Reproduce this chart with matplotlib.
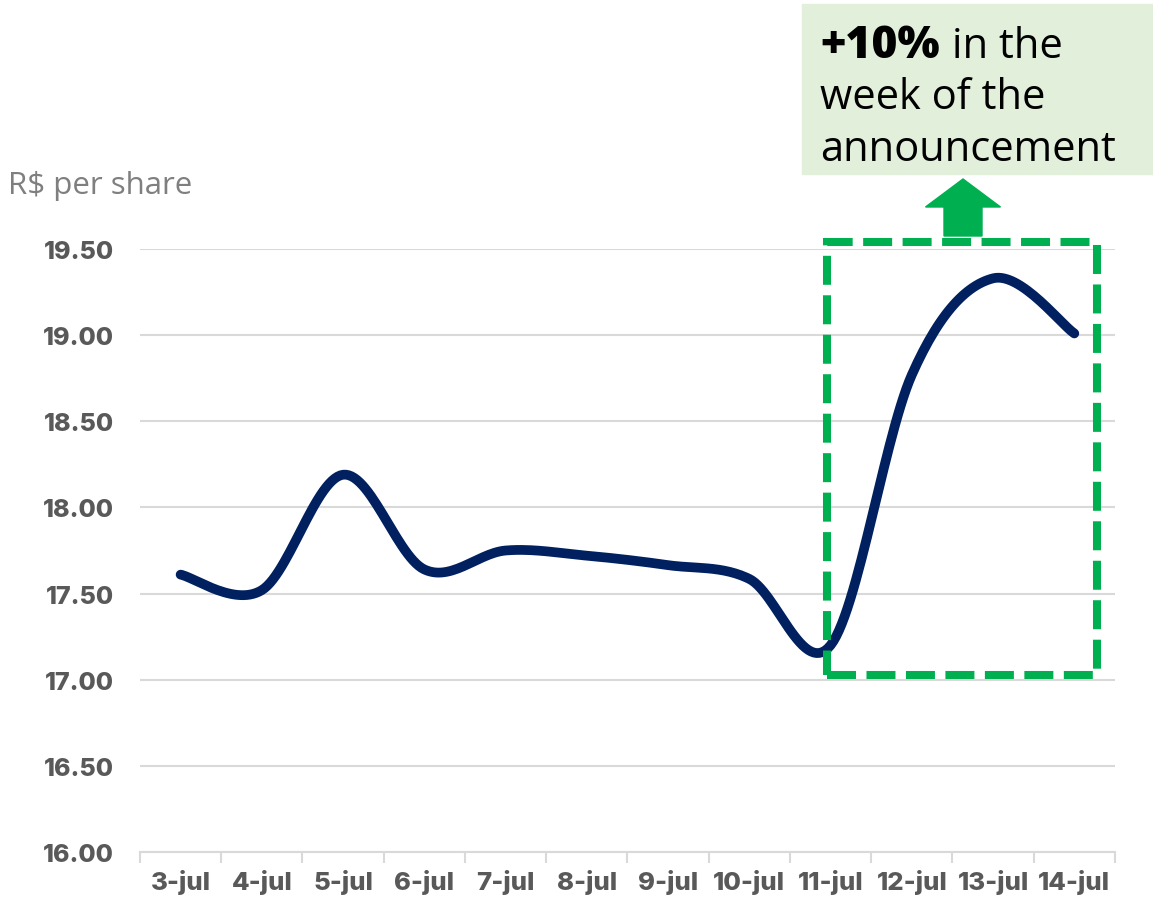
import numpy as np
import matplotlib.pyplot as plt
from matplotlib.patches import Rectangle, FancyArrow

# data
days = ["3-jul", "4-jul", "5-jul", "6-jul", "7-jul", "8-jul",
        "9-jul", "10-jul", "11-jul", "12-jul", "13-jul", "14-jul"]
price = [17.61, 17.52, 18.19, 17.64, 17.75, 17.72,
         17.665, 17.585, 17.20, 18.77, 19.33, 19.01]
yticks = [16.0, 16.5, 17.0, 17.5, 18.0, 18.5, 19.0, 19.5]

NAVY = "#002060"
GREEN = "#00B050"
GRAY = "#595959"
TICKFONT = ['Inter', 'DejaVu Sans']


def smooth(x, y, n=30):
    # Excel-style smoothed line (Catmull-Rom through every point)
    x = np.asarray(x, float)
    y = np.asarray(y, float)
    px = np.concatenate([[x[0]], x, [x[-1]]])
    py = np.concatenate([[y[0]], y, [y[-1]]])
    xs, ys = [], []
    t = np.linspace(0, 1, n)
    for i in range(1, len(px) - 2):
        p0, p1, p2, p3 = [np.array([px[j], py[j]]) for j in range(i - 1, i + 3)]
        c1 = p1 + (p2 - p0) / 6
        c2 = p2 - (p3 - p1) / 6
        b = ((1 - t) ** 3)[:, None] * p1 + (3 * (1 - t) ** 2 * t)[:, None] * c1 \
            + (3 * (1 - t) * t ** 2)[:, None] * c2 + (t ** 3)[:, None] * p2
        xs.extend(b[:, 0])
        ys.extend(b[:, 1])
    return np.array(xs), np.array(ys)


plt.rcParams['font.family'] = ['Open Sans', 'DejaVu Sans']

fig = plt.figure(figsize=(11.53, 9.03), dpi=100)
ax = fig.add_axes([0.1214, 0.0554, 0.8456, 0.6677])

x = np.arange(len(days))
sx, sy = smooth(x, price)
ax.plot(sx, sy, color=NAVY, lw=7, solid_capstyle='round', zorder=3)

ax.set_xlim(-0.5, len(days) - 0.5)
ax.set_ylim(16.0, 19.5)
ax.set_yticks(yticks)
ax.set_yticklabels([f"{v:.2f}" for v in yticks], fontsize=18, fontweight='heavy',
                   color=GRAY, family=TICKFONT)
ax.set_xticks(x)
ax.set_xticklabels(days, fontsize=18.5, fontweight='heavy', color=GRAY,
                   family=TICKFONT)
ax.set_xticks(np.arange(-0.5, len(days)), minor=True)
ax.tick_params(axis='x', which='major', length=0, pad=12)
ax.tick_params(axis='x', which='minor', length=8, color='#d9d9d9', width=1.5)
ax.tick_params(axis='y', length=0, pad=19)
for s in ['top', 'right', 'left']:
    ax.spines[s].set_visible(False)
ax.spines['bottom'].set_color('#d9d9d9')
ax.spines['bottom'].set_linewidth(1.5)
ax.grid(axis='y', color='#d9d9d9', lw=1.5)
ax.set_axisbelow(True)

# highlight box around the announcement week
box = Rectangle((7.95, 17.03), 3.33, 2.51, fill=False, edgecolor=GREEN,
                lw=5.8, linestyle=(0, (3.6, 1.3)), clip_on=False, zorder=4)
ax.add_patch(box)

# up arrow and callout
fig.patches.append(FancyArrow(963 / 1153, (903 - 237) / 903, 0, 57 / 903,
                              width=38 / 1153, head_width=75 / 1153,
                              head_length=28 / 903, length_includes_head=True,
                              color=GREEN, transform=fig.transFigure))
fig.patches.append(Rectangle((802 / 1153, (903 - 175) / 903), 351 / 1153, 170 / 903,
                             color='#E2EFDA', transform=fig.transFigure))
t1 = fig.text(820 / 1153, (903 - 47) / 903, "+10%", fontsize=32, fontweight='heavy',
              va='center', ha='left')
fig.canvas.draw()
bb = t1.get_window_extent()
fig.text((bb.x1 + 12) / 1153, (903 - 47) / 903, "in the", fontsize=30,
         va='center', ha='left')
fig.text(820 / 1153, (903 - 98) / 903, "week of the", fontsize=30, va='center', ha='left')
fig.text(820 / 1153, (903 - 150) / 903, "announcement", fontsize=30, va='center', ha='left')

fig.text(8 / 1153, (903 - 186) / 903, "R$ per share", fontsize=22.5, color='#7f7f7f',
         va='center', ha='left')

fig.savefig("out.png", dpi=100)
